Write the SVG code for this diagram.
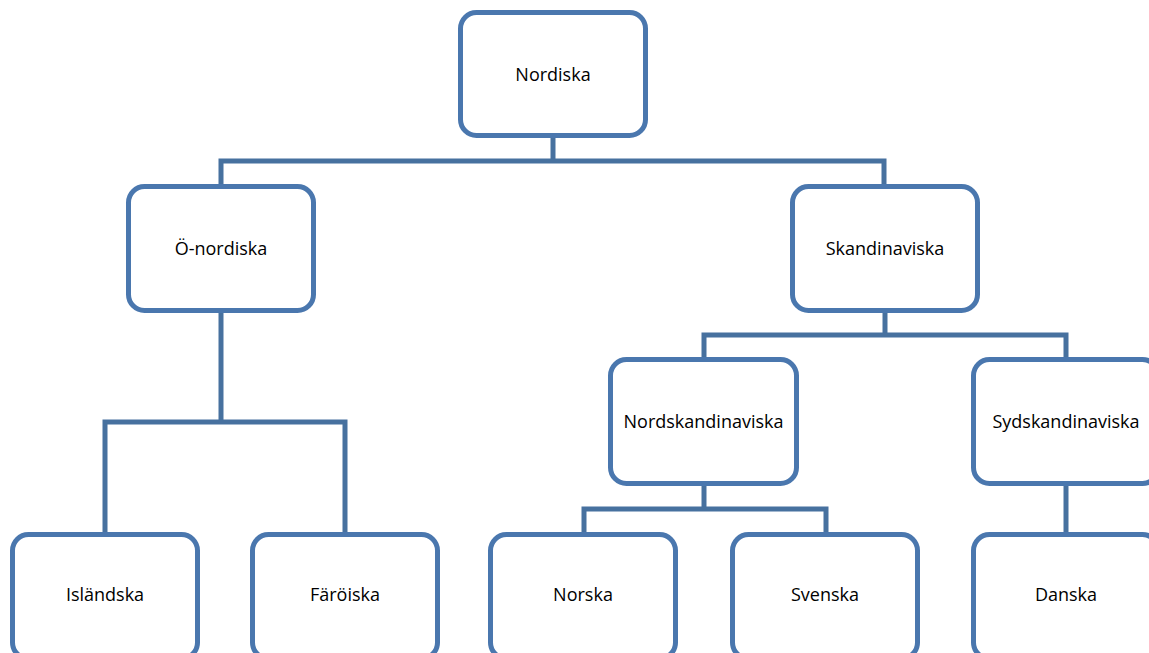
<svg xmlns="http://www.w3.org/2000/svg" width="1149" height="653" viewBox="0 0 1149 653">
<style>
.box{fill:#ffffff;stroke:#4A77AE;stroke-width:5}
.lbl{font-family:"Open Sans","Liberation Sans",sans-serif;font-size:18px;fill:#000000;text-anchor:middle}
.con{fill:none;stroke:#47719F;stroke-width:5;stroke-linejoin:miter}
</style>
<rect width="1149" height="653" fill="#ffffff"/>
<g id="connectors">
<path class="con" d="M553 136 V161"/>
<path class="con" d="M221 187 V161 H884 V187"/>
<path class="con" d="M221 311 V422"/>
<path class="con" d="M105 535 V422 H345 V535"/>
<path class="con" d="M885 311 V335"/>
<path class="con" d="M704 360 V335 H1066 V360"/>
<path class="con" d="M704 484 V509"/>
<path class="con" d="M584 535 V509 H826 V535"/>
<path class="con" d="M1066 484 V535"/>
</g>
<g id="n-nordiska"><rect class="box" x="460.5" y="12.5" width="185" height="123" rx="16"/><text class="lbl" x="553" y="81">Nordiska</text></g>
<g id="n-onordiska"><rect class="box" x="128.5" y="186.5" width="185" height="124" rx="16"/><text class="lbl" x="221" y="255">Ö-nordiska</text></g>
<g id="n-skandinaviska"><rect class="box" x="792.5" y="186.5" width="185" height="124" rx="16"/><text class="lbl" x="885" y="255">Skandinaviska</text></g>
<g id="n-nordskandinaviska"><rect class="box" x="610.5" y="359.5" width="186" height="124" rx="16"/><text class="lbl" x="703.5" y="428">Nordskandinaviska</text></g>
<g id="n-sydskandinaviska"><rect class="box" x="973.5" y="359.5" width="185" height="124" rx="16"/><text class="lbl" x="1066" y="428">Sydskandinaviska</text></g>
<g id="n-islandska"><rect class="box" x="12.5" y="534.5" width="185" height="124" rx="16"/><text class="lbl" x="105" y="601">Isländska</text></g>
<g id="n-faroiska"><rect class="box" x="252.5" y="534.5" width="185" height="124" rx="16"/><text class="lbl" x="345" y="601">Färöiska</text></g>
<g id="n-norska"><rect class="box" x="490.5" y="534.5" width="185" height="124" rx="16"/><text class="lbl" x="583" y="601">Norska</text></g>
<g id="n-svenska"><rect class="box" x="732.5" y="534.5" width="185" height="124" rx="16"/><text class="lbl" x="825" y="601">Svenska</text></g>
<g id="n-danska"><rect class="box" x="973.5" y="534.5" width="185" height="124" rx="16"/><text class="lbl" x="1066" y="601">Danska</text></g>
</svg>
